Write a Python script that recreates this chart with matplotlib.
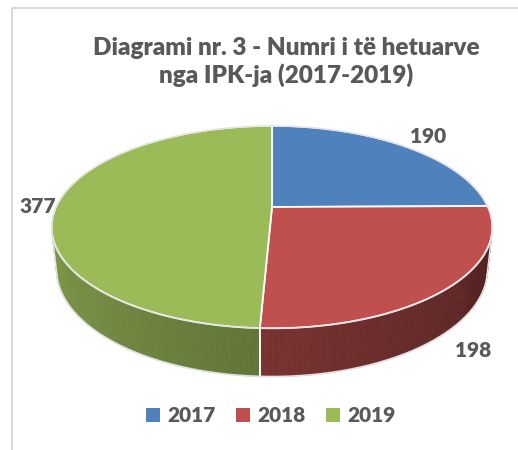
import numpy as np
import matplotlib.pyplot as plt
from matplotlib.patches import Polygon, Rectangle

years = ["2017", "2018", "2019"]
values = [190, 198, 377]
colors = ["#4F81BD", "#C0504D", "#9BBB59"]
title = "Diagrami nr. 3 - Numri i të hetuarve\nnga IPK-ja (2017-2019)"

plt.rcParams['font.family'] = ['Lato', 'DejaVu Sans']
txt_color = "#595959"

W, H = 518, 450
fig = plt.figure(figsize=(W / 100, H / 100), dpi=100)
ax = fig.add_axes([0, 0, 1, 1])
ax.set_xlim(0, W)
ax.set_ylim(H, 0)
ax.axis('off')

# chart area border (cut by the image edges)
ax.add_patch(Rectangle((12, 8), 600, 500, fill=False, ec="#D9D9D9", lw=1.5))

# 3d pie geometry (pixel space)
cx, cy, R = 272, 207, 216
sa, ca = 0.45, 0.893
F = 4.5
depth = 0.22


def proj(theta, z=0.0, r=1.0):
    x3 = r * np.cos(theta)
    y3 = r * np.sin(theta)
    Y = y3 * sa + z * ca
    D = y3 * ca - z * sa
    s = F / (F + D)
    return cx + R * x3 * s, cy - R * Y * s


def rgb(h):
    h = h.lstrip('#')
    return np.array([int(h[i:i + 2], 16) / 255 for i in (0, 2, 4)])


fracs = np.array(values) / sum(values)
starts = np.pi / 2 - 2 * np.pi * np.concatenate([[0], np.cumsum(fracs)[:-1]])
ends = starts - 2 * np.pi * fracs

# visible part of the wall (perspective culling)
cut = np.arcsin(1 / (F * ca))
w_hi, w_lo = -cut, -np.pi + cut

for st, en, c in zip(starts, ends, colors):
    a0 = min(st, w_hi)
    a1 = max(en, w_lo)
    if a0 <= a1:
        continue
    ts = np.linspace(a0, a1, 150)
    base = rgb(c)
    for t1, t2 in zip(ts[:-1], ts[1:]):
        tm = (t1 + t2) / 2
        shade = 0.86 - (tm + np.pi) / np.pi * 0.49
        pts = [proj(t1), proj(t2), proj(t2, -depth), proj(t1, -depth)]
        ax.add_patch(Polygon(pts, closed=True, fc=base * shade,
                             ec=base * shade, lw=0.5))
    for t in (st, en):
        if w_lo < t < w_hi:
            p1, p2 = proj(t), proj(t, -depth)
            ax.plot([p1[0], p2[0]], [p1[1], p2[1]], color="white", lw=1.2)

# wall outline
tt = np.linspace(w_hi, w_lo, 200)
bx, by = zip(*[proj(t, -depth) for t in tt])
ax.plot(bx, by, color="#E3E3E3", lw=1.2)
for t in (w_hi, w_lo):
    p1, p2 = proj(t), proj(t, -depth)
    ax.plot([p1[0], p2[0]], [p1[1], p2[1]], color="#E3E3E3", lw=1.2)

# top faces
for st, en, c in zip(starts, ends, colors):
    ts = np.linspace(st, en, 200)
    pts = [proj(0, 0, 0)] + [proj(t) for t in ts]
    ax.add_patch(Polygon(pts, closed=True, fc=c, ec="white", lw=1.3))
tt = np.linspace(0, 2 * np.pi, 400)
ox, oy = zip(*[proj(t) for t in tt])
ax.plot(ox, oy, color="#E3E3E3", lw=1.0)

# data labels
lab_r = [1.2, 1.15, 1.09]
lab_z = [0.0, -depth, -0.01]
for st, en, v, r, z in zip(starts, ends, values, lab_r, lab_z):
    px, py = proj((st + en) / 2, z, r)
    ax.text(px, py, str(v), ha='center', va='center', fontsize=15,
            fontweight='heavy', color=txt_color)

ax.text(286, 62, title, ha='center', va='center', fontsize=17.5,
        fontweight='heavy', color=txt_color, linespacing=1.2)

handles = [Rectangle((0, 0), 1, 1, fc=c, ec='none') for c in colors]
leg = fig.legend(handles, years, loc='center', bbox_to_anchor=(0.523, 0.076),
                 ncol=3, frameon=False, handlelength=0.65, handleheight=0.65,
                 handletextpad=0.35, columnspacing=1.0, fontsize=15)
for t in leg.get_texts():
    t.set_color(txt_color)
    t.set_fontweight('heavy')

fig.savefig("out.png", dpi=100)
